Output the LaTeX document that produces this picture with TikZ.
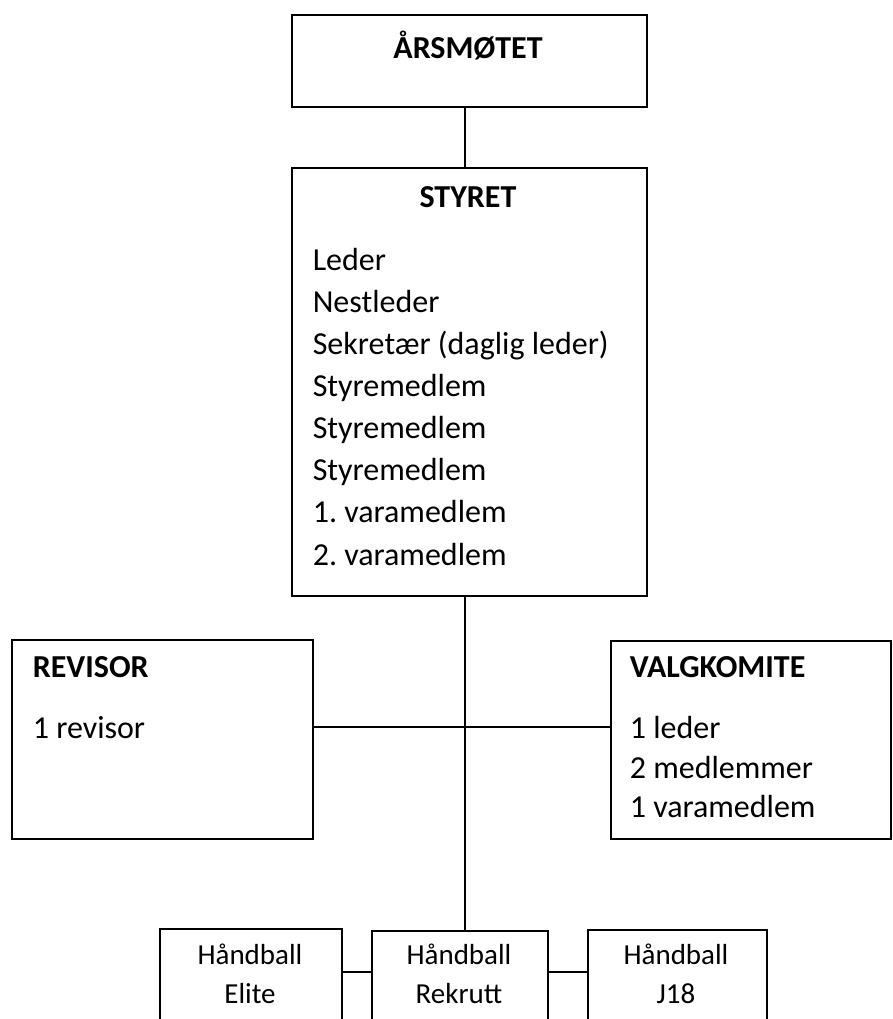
\documentclass[tikz,border=0pt]{standalone}
\usepackage{fontspec}
\setmainfont{Carlito}
\usetikzlibrary{positioning}

\tikzset{
  box/.style={draw, line width=0.8pt, anchor=north west, inner sep=0pt},
  title/.style={font=\fontsize{16}{19}\selectfont\bfseries, inner sep=0pt, text height=1.5ex, text depth=.25ex, yshift=-2.2pt},
  item/.style={font=\fontsize{16}{19}\selectfont, anchor=west, inner sep=0pt, text height=1.5ex, text depth=.25ex, yshift=-2.2pt},
  unit/.style={font=\fontsize{14.5}{17}\selectfont, inner sep=0pt, text height=1.5ex, text depth=.25ex, yshift=-2.2pt}
}

\begin{document}
\begin{tikzpicture}[x=0.5pt,y=-0.5pt,line width=0.8pt]
\useasboundingbox (0,0) rectangle (893,1019);
\clip (0,0) rectangle (893,1019);

\node[box, minimum width=177.5pt, minimum height=46pt] (aarsmote) at (291,14) {};
\node[box, minimum width=177.5pt, minimum height=214pt] (styret) at (291,167) {};
\node[box, minimum width=150.5pt, minimum height=99.5pt] (revisor) at (11,639) {};
\node[box, minimum width=140pt, minimum height=99pt] (valg) at (610,640) {};
\node[box, minimum width=91pt, minimum height=80pt] (elite) at (159,928) {};
\node[box, minimum width=88pt, minimum height=80pt] (rekrutt) at (371,930) {};
\node[box, minimum width=89.5pt, minimum height=80pt] (j18) at (587,929) {};

\node[title] (aarsmote-t) at (468,48) {ÅRSMØTET};
\node[title] (styret-t) at (468,197) {STYRET};
\foreach \t [count=\i] in {Leder, Nestleder, Sekretær (daglig leder), Styremedlem,
  Styremedlem, Styremedlem, 1.\ varamedlem, 2.\ varamedlem}
  \node[item] (sty\i) at (312,{260+42.1*(\i-1)}) {\t};

\node[title, anchor=west] (revisor-t) at (32,667) {REVISOR};
\node[item] (rev1) at (32,728) {1 revisor};

\node[title, anchor=west] (valg-t) at (629,667) {VALGKOMITE};
\node[item] (valg1) at (629,728) {1 leder};
\node[item] (valg2) at (629,768) {2 medlemmer};
\node[item] (valg3) at (629,807) {1 varamedlem};

\node[unit] (elite1) at (250,954) {Håndball};
\node[unit] (elite2) at (250,993) {Elite};
\node[unit] (rekrutt1) at (459,954) {Håndball};
\node[unit] (rekrutt2) at (459,993) {Rekrutt};
\node[unit] (j181) at (676,954) {Håndball};
\node[unit] (j182) at (676,993) {J18};

\coordinate (spine) at (465,972);
\coordinate (revline) at (465,727);
\draw (aarsmote.south -| spine) -- (styret.north -| spine);
\draw (styret.south -| spine) -- (rekrutt.north -| spine);
\draw (revisor.east |- revline) -- (valg.west |- revline);
\draw (elite.east |- spine) -- (rekrutt.west |- spine);
\draw (rekrutt.east |- spine) -- (j18.west |- spine);
\end{tikzpicture}
\end{document}
